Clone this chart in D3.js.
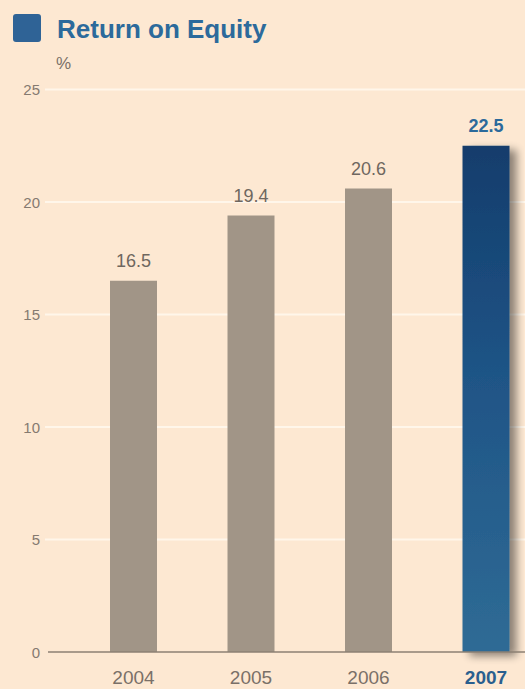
<!DOCTYPE html>
<html>
<head>
<meta charset="utf-8">
<script src="https://cdn.jsdelivr.net/npm/d3@7/dist/d3.min.js"></script>
<style>
  html, body { margin: 0; padding: 0; background: #fde8d2; }
  svg { display: block; }
</style>
</head>
<body>
<svg id="chart" width="525" height="689"></svg>
<script>
// Return on equity by year, in percent
const years = ["2004", "2005", "2006", "2007"];
const roe = [16.5, 19.4, 20.6, 22.5];
const yTicks = [0, 5, 10, 15, 20, 25];
const highlightYear = "2007";

const W = 525, H = 689;
const svg = d3.select("#chart");
const font = "'Liberation Sans', Arial, Helvetica, sans-serif";

svg.append("rect").attr("width", W).attr("height", H).attr("fill", "#fde8d2");

const defs = svg.append("defs");
const grad = defs.append("linearGradient")
  .attr("id", "hiGrad").attr("x1", 0).attr("y1", 0).attr("x2", 0).attr("y2", 1);
grad.append("stop").attr("offset", "0%").attr("stop-color", "#133d6c");
grad.append("stop").attr("offset", "45%").attr("stop-color", "#1f5486");
grad.append("stop").attr("offset", "100%").attr("stop-color", "#2f6b95");

const shadow = defs.append("filter").attr("id", "barShadow")
  .attr("x", "-30%").attr("y", "-10%").attr("width", "160%").attr("height", "130%");
shadow.append("feGaussianBlur").attr("in", "SourceAlpha").attr("stdDeviation", 4).attr("result", "b");
shadow.append("feOffset").attr("in", "b").attr("dx", 7).attr("dy", 4).attr("result", "o");
shadow.append("feComponentTransfer").attr("in", "o").attr("result", "s")
  .append("feFuncA").attr("type", "linear").attr("slope", 0.45);
const merge = shadow.append("feMerge");
merge.append("feMergeNode").attr("in", "s");
merge.append("feMergeNode").attr("in", "SourceGraphic");

// Scales
const y = d3.scaleLinear().domain([0, 25]).range([652, 89.5]);
const x = d3.scaleBand().domain(years)
  .range([74.75, 544.75]).paddingInner(0.6).paddingOuter(0.3);

// Title block
svg.append("rect").attr("x", 13).attr("y", 14).attr("width", 28).attr("height", 28)
  .attr("rx", 3).attr("fill", "#2f6396");
svg.append("text").attr("x", 57).attr("y", 38)
  .attr("font-family", font).attr("font-weight", "bold").attr("font-size", 26)
  .attr("fill", "#2c6a9b").text("Return on Equity");
svg.append("text").attr("x", 56).attr("y", 69)
  .attr("font-family", font).attr("font-size", 17)
  .attr("fill", "#7a7068").text("%");

// Gridlines and y tick labels
const yAxis = d3.axisLeft(y).tickValues(yTicks).tickSize(0).tickPadding(0);
const gy = svg.append("g").attr("transform", "translate(40,0)").call(yAxis);
gy.select(".domain").remove();
gy.selectAll("text")
  .attr("font-family", font).attr("font-size", 15).attr("fill", "#857a70")
  .attr("text-anchor", "end").attr("dy", "0.36em");

svg.append("g").selectAll("line")
  .data(yTicks.filter(d => d > 0))
  .join("line")
  .attr("x1", 45).attr("x2", W)
  .attr("y1", d => y(d)).attr("y2", d => y(d))
  .attr("stroke", "#fff6ea").attr("stroke-width", 2.2);

// Bars
const data = years.map((yr, i) => ({ year: yr, value: roe[i] }));
svg.append("g").selectAll("rect")
  .data(data)
  .join("rect")
  .attr("x", d => x(d.year))
  .attr("y", d => y(d.value))
  .attr("width", x.bandwidth())
  .attr("height", d => y(0) - y(d.value))
  .attr("fill", d => d.year === highlightYear ? "url(#hiGrad)" : "#a19587")
  .attr("filter", d => d.year === highlightYear ? "url(#barShadow)" : null);

// Baseline
svg.append("line").attr("x1", 48).attr("x2", W)
  .attr("y1", y(0)).attr("y2", y(0))
  .attr("stroke", "#8d8173").attr("stroke-width", 1.3);

// Value labels
svg.append("g").selectAll("text")
  .data(data)
  .join("text")
  .attr("x", d => x(d.year) + x.bandwidth() / 2)
  .attr("y", d => y(d.value) - 14)
  .attr("text-anchor", "middle")
  .attr("font-family", font).attr("font-size", 18)
  .attr("font-weight", d => d.year === highlightYear ? "bold" : "normal")
  .attr("fill", d => d.year === highlightYear ? "#2c6a9b" : "#6f675f")
  .text(d => d3.format(".1f")(d.value));

// Year labels
const xAxis = d3.axisBottom(x).tickSize(0).tickPadding(0);
const gx = svg.append("g").attr("transform", "translate(0,684)").call(xAxis);
gx.select(".domain").remove();
gx.selectAll("text")
  .attr("font-family", font).attr("font-size", 19)
  .attr("y", 0).attr("dy", 0)
  .attr("font-weight", d => d === highlightYear ? "bold" : "normal")
  .attr("fill", d => d === highlightYear ? "#2a5f8e" : "#7a7068");
</script>
</body>
</html>
